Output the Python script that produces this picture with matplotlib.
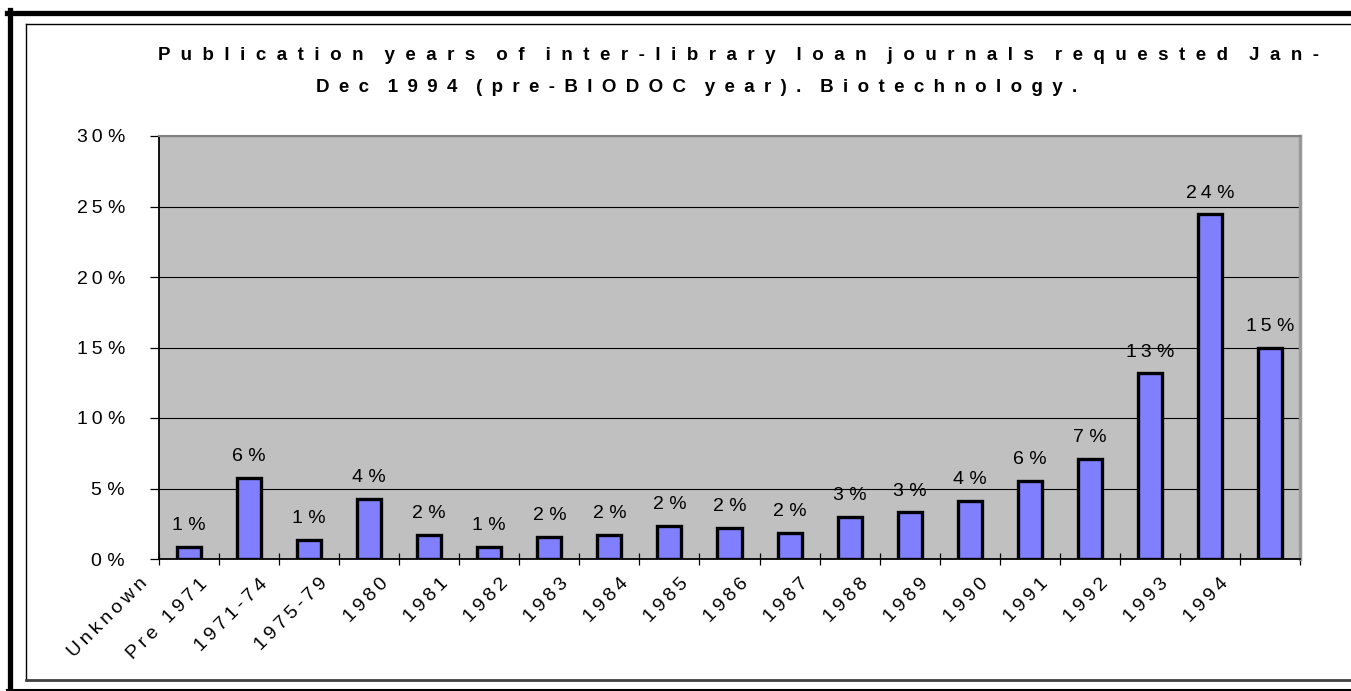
import numpy as np
import matplotlib
matplotlib.use("Agg")
import matplotlib.pyplot as plt
from matplotlib.lines import Line2D

plt.rcParams['font.family'] = ['Liberation Sans', 'DejaVu Sans']

categories = ['Unknown', 'Pre 1971', '1971-74', '1975-79', '1980', '1981', '1982',
              '1983', '1984', '1985', '1986', '1987', '1988', '1989', '1990',
              '1991', '1992', '1993', '1994']
shares = [0.88, 5.76, 1.38, 4.27, 1.73, 0.88, 1.57, 1.73, 2.35, 2.2, 1.85,
          3.0, 3.3, 4.12, 5.54, 7.1, 13.17, 24.45, 15.0]
yticks = [0, 5, 10, 15, 20, 25, 30]
title1 = 'Publication years of inter-library loan journals requested Jan-'
title2 = 'Dec 1994 (pre-BIODOC year). Biotechnology.'


def sp(s, sep='\u2009'):
    # excel-ish letter spacing
    return sep.join(s)


def spt(s, gap='  ', wgap='    '):
    return wgap.join(gap.join(w) for w in s.split(' '))


fig = plt.figure(figsize=(13.51, 6.91), dpi=100)
W, H = 1351.0, 691.0

# frame lines (outer thick, inner thin)
fig.add_artist(Line2D([9.5 / W, 9.5 / W], [0, 1 - 10 / H], color='black', lw=3.8))
fig.add_artist(Line2D([7 / W, 1], [1 - 12.5 / H, 1 - 12.5 / H], color='black', lw=3.8))
fig.add_artist(Line2D([7 / W, 1], [1.2 / H, 1.2 / H], color='black', lw=1.5))
fig.add_artist(Line2D([26 / W, 26 / W], [11 / H, 1 - 24 / H], color='black', lw=1.0))
fig.add_artist(Line2D([26 / W, 1], [1 - 24 / H, 1 - 24 / H], color='black', lw=1.0))
fig.add_artist(Line2D([26 / W, 1], [11 / H, 11 / H], color='#404040', lw=2.0))

ax = fig.add_axes([159 / W, 1 - 559 / H, 1141 / W, 423 / H])
ax.set_facecolor('#C0C0C0')

x = np.arange(len(categories))
ax.bar(x, shares, width=0.4, color='#8080FF', edgecolor='black', linewidth=2.4, zorder=3)

for xi, v in zip(x, shares):
    ax.annotate(sp(str(int(v + 0.5))) + ' %', (xi, v), xytext=(0, 9),
                textcoords='offset points', ha='center', va='bottom',
                fontsize=14, zorder=4)

ax.set_xlim(-0.5, len(categories) - 0.5)
ax.set_ylim(0, 30)
ax.set_yticks(yticks)
ax.set_yticklabels([sp(str(t)) + ' %' for t in yticks], fontsize=14)
ax.yaxis.grid(True, color='black', lw=0.8)
ax.set_axisbelow(True)

# ticks sit on category boundaries, labels hang off the left boundary (excel quirk)
ax.set_xticks(np.arange(len(categories) + 1) - 0.5)
ax.set_xticklabels([])
for xi, c in zip(x, categories):
    ax.annotate(sp(c), (xi - 0.5, 0), xycoords=('data', 'axes fraction'),
                xytext=(-10, -16), textcoords='offset points',
                rotation=45, rotation_mode='anchor', ha='right', va='center',
                fontsize=14, annotation_clip=False)

ax.tick_params(axis='x', direction='inout', length=9, width=0.9)
ax.tick_params(axis='y', direction='out', length=6.5, width=0.9, pad=18)

ax.spines['left'].set_color('black')
ax.spines['left'].set_linewidth(1.3)
ax.spines['bottom'].set_color('black')
ax.spines['bottom'].set_linewidth(1.3)
ax.spines['top'].set_color('#808080')
ax.spines['top'].set_linewidth(1.5)
ax.spines['right'].set_color('#999999')
ax.spines['right'].set_linewidth(2.5)

fig.text(739 / W, 1 - 60 / H, spt(title1), ha='center', va='baseline',
         fontsize=13.5, fontweight='bold')
fig.text(697 / W, 1 - 92 / H, spt(title2, '\u2002', '\u2002\u2002'), ha='center',
         va='baseline', fontsize=13.5, fontweight='bold')

fig.savefig('out.png', dpi=100)
